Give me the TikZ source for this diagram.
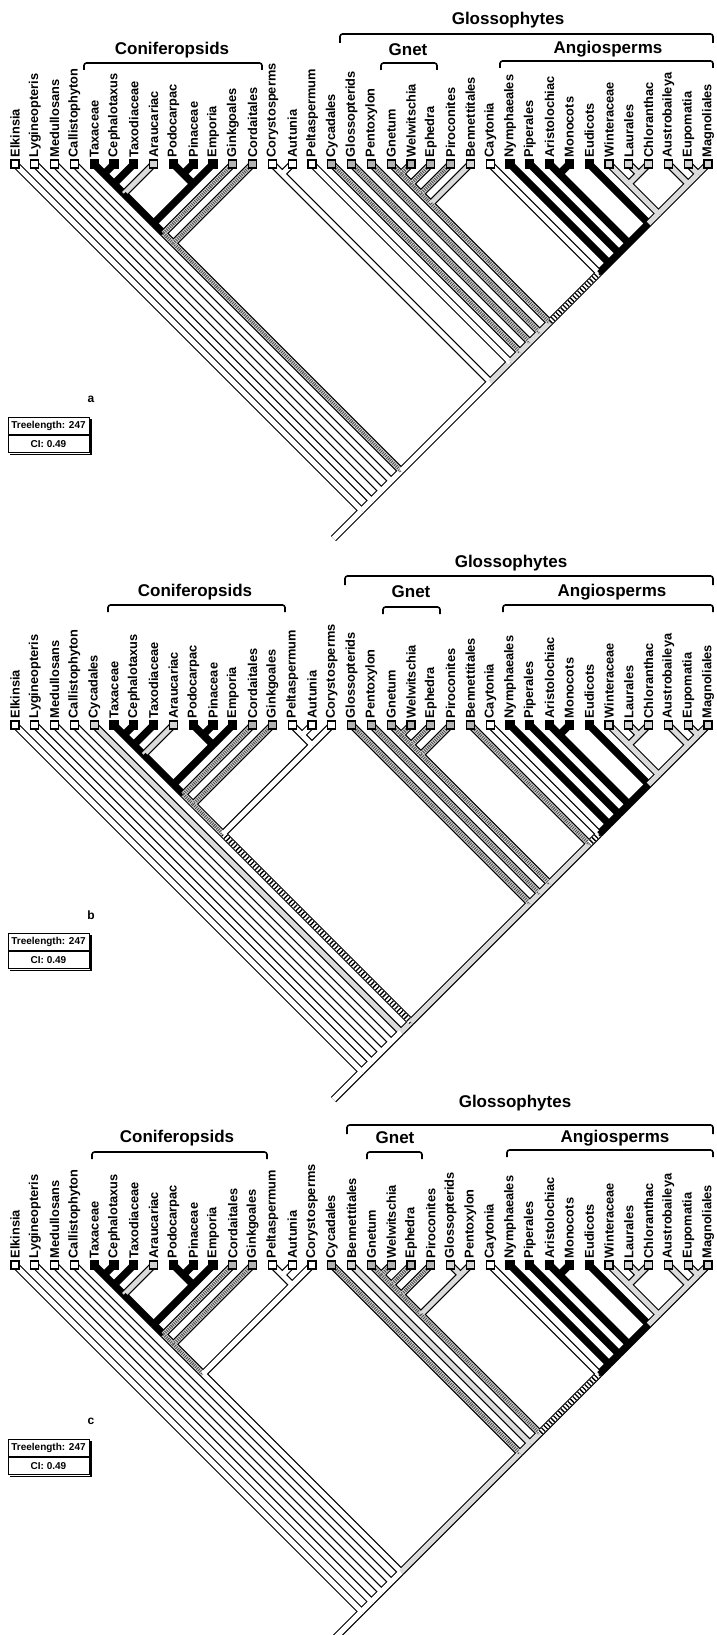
\documentclass[tikz,border=0pt]{standalone}
\usepackage{fontspec}
\setmainfont{Liberation Sans}
\usetikzlibrary{calc}

\tikzset{
  brout/.style={line width=7.4pt, black},
  brin/.style={line width=5pt},
  fw/.style={draw=white},
  fk/.style={draw=black},
  fg/.style={draw=gray!28},
  fz/.style={draw=gray!35, postaction={draw=black!70, line width=3.6pt, dash pattern=on 0.9pt off 1.2pt}},
  fh/.style={draw=white, postaction={draw=black, dash pattern=on 1.3pt off 2.1pt}},
  leaf/.style={draw, line width=1.1pt, minimum size=8pt, inner sep=0pt},
  lbfw/.style={fill=white}, lbfk/.style={fill=black}, lbfg/.style={fill=gray!35},
  lbfz/.style={fill=gray!60}, lbfh/.style={fill=gray!60},
  taxon/.style={rotate=90, anchor=west, inner sep=0.5pt,
                font=\fontsize{12.8}{13}\selectfont\bfseries},
  group/.style={font=\fontsize{17}{18}\selectfont\bfseries, inner sep=0pt},
  brk/.style={line width=1.6pt, rounded corners=2.5pt},
  legrow/.style={draw, line width=1pt, minimum width=81pt, minimum height=17pt,
                 inner sep=0pt, font=\fontsize{10}{10}\selectfont\bfseries},
}

% tree: prefix, y of leaf row, branch list (child L/R, parent L/R, fill)
\newcommand\drawtree[3]{%
  \foreach \cL/\cR/\pL/\pR/\f in #3{
    \coordinate (#1\cL x\cR) at ({15+9.9*(\cL+\cR)},{#2+9.9*(\cR-\cL)});
    \coordinate (#1\pL x\pR) at ({15+9.9*(\pL+\pR)},{#2+9.9*(\pR-\pL)});
  }
  \coordinate (#1root) at ($(#10x35)+(-28,28)$);
  \draw[brout] (#10x35) -- (#1root);
  \foreach \cL/\cR/\pL/\pR/\f in #3
    \draw[brout] (#1\cL x\cR) -- (#1\pL x\pR);
  \draw[brin, fw] (#10x35) -- (#1root);
  \foreach \cL/\cR/\pL/\pR/\f in #3
    \draw[brin, \f] (#1\cL x\cR) -- (#1\pL x\pR);
  \foreach \cL/\cR/\pL/\pR/\f in #3{
    \ifnum\cL=\cR\relax
      \edef\bs{lb\f}
      \node[leaf, \bs] (#1box\cL) at (#1\cL x\cR) {};
    \fi}
}

% legend box: prefix, letter, y of letter
\newcommand\legend[3]{%
  \node[font=\fontsize{12}{12}\selectfont\bfseries] (#1let) at (91,#3) {#2};
  \node[legrow] (#1tl) at (48.5,#3+27) {Treelength: 247};
  \node[legrow, anchor=north] (#1ci) at (#1tl.south) {CI: 0.49};
  \draw[line width=1.4pt] ($(#1tl.north east)+(1.4,2)$) -- ($(#1ci.south east)+(1.4,1.4)$)
    -- ($(#1ci.south west)+(2,1.4)$);
}

\def\angio{24/24/24/35/fw, 25/35/24/35/fk,
  25/25/25/35/fk, 26/35/25/35/fk, 26/26/26/35/fk, 27/35/26/35/fk,
  27/27/27/28/fk, 28/28/27/28/fk, 27/28/27/35/fk, 29/35/27/35/fk,
  29/29/29/35/fk, 30/35/29/35/fg,
  30/30/30/32/fg, 31/31/31/32/fg, 32/32/31/32/fg, 31/32/30/32/fg, 30/32/30/35/fg,
  33/33/33/35/fg, 34/34/34/35/fg, 35/35/34/35/fg, 34/35/33/35/fg, 33/35/30/35/fg}

\edef\treeA{0/0/0/35/fw, 1/1/1/35/fw, 2/2/2/35/fw, 3/3/3/35/fw,
  1/35/0/35/fw, 2/35/1/35/fw, 3/35/2/35/fw, 4/35/3/35/fw,
  4/12/4/35/fz, 13/35/4/35/fw,
  4/4/4/5/fk, 5/5/4/5/fk, 4/5/4/6/fk, 6/6/4/6/fk, 4/6/4/7/fk, 7/7/4/7/fg, 4/7/4/10/fk,
  8/8/8/9/fk, 9/9/8/9/fk, 8/9/8/10/fk, 10/10/8/10/fk, 8/10/4/10/fk,
  4/10/4/11/fk, 11/11/4/11/fz, 4/11/4/12/fz, 12/12/4/12/fz,
  13/13/13/14/fw, 14/14/13/14/fw, 13/14/13/35/fw, 15/35/13/35/fg,
  15/15/15/35/fw, 16/35/15/35/fg, 16/16/16/35/fz, 17/35/16/35/fg,
  17/17/17/35/fz, 18/35/17/35/fg, 18/18/18/35/fz, 19/35/18/35/fg,
  19/19/19/20/fz, 20/20/19/20/fz, 19/20/19/21/fz, 21/21/19/21/fz,
  19/21/19/22/fz, 22/22/19/22/fz, 19/22/19/23/fz, 23/23/19/23/fg, 19/23/19/35/fz,
  24/35/19/35/fh, \angio}

\edef\treeB{0/0/0/35/fw, 1/1/1/35/fw, 2/2/2/35/fw, 3/3/3/35/fw, 4/4/4/35/fg,
  1/35/0/35/fw, 2/35/1/35/fw, 3/35/2/35/fw, 4/35/3/35/fw, 5/35/4/35/fg,
  5/16/5/35/fh, 17/35/5/35/fg,
  5/5/5/6/fk, 6/6/5/6/fk, 5/6/5/7/fk, 7/7/5/7/fk, 5/7/5/8/fk, 8/8/5/8/fg, 5/8/5/11/fk,
  9/9/9/10/fk, 10/10/9/10/fk, 9/10/9/11/fk, 11/11/9/11/fk, 9/11/5/11/fk,
  5/11/5/12/fk, 12/12/5/12/fz, 5/12/5/13/fz, 13/13/5/13/fz, 5/13/5/16/fz,
  14/14/14/15/fw, 15/15/14/15/fw, 14/15/14/16/fw, 16/16/14/16/fw, 14/16/5/16/fw,
  17/17/17/35/fz, 18/35/17/35/fg, 18/18/18/35/fz, 19/35/18/35/fg,
  19/19/19/20/fz, 20/20/19/20/fz, 19/20/19/21/fz, 21/21/19/21/fz,
  19/21/19/22/fz, 22/22/19/22/fz, 19/22/19/35/fz,
  23/35/19/35/fg, 23/23/23/35/fz, 24/35/23/35/fh, \angio}

\edef\treeC{0/0/0/35/fw, 1/1/1/35/fw, 2/2/2/35/fw, 3/3/3/35/fw,
  1/35/0/35/fw, 2/35/1/35/fw, 3/35/2/35/fw, 4/35/3/35/fw,
  4/15/4/35/fw, 16/35/4/35/fg,
  4/4/4/5/fk, 5/5/4/5/fk, 4/5/4/6/fk, 6/6/4/6/fk, 4/6/4/7/fk, 7/7/4/7/fg, 4/7/4/10/fk,
  8/8/8/9/fk, 9/9/8/9/fk, 8/9/8/10/fk, 10/10/8/10/fk, 8/10/4/10/fk,
  4/10/4/11/fk, 11/11/4/11/fz, 4/11/4/12/fz, 12/12/4/12/fz, 4/12/4/15/fz,
  13/13/13/14/fw, 14/14/13/14/fw, 13/14/13/15/fw, 15/15/13/15/fw, 13/15/4/15/fw,
  16/16/16/35/fz, 17/35/16/35/fg, 17/17/17/35/fg, 18/35/17/35/fg,
  18/18/18/19/fz, 19/19/18/19/fz, 18/19/18/20/fz, 20/20/18/20/fz,
  18/20/18/21/fz, 21/21/18/21/fz, 18/21/18/23/fz,
  22/22/22/23/fg, 23/23/22/23/fg, 22/23/18/23/fg, 18/23/18/35/fz,
  24/35/18/35/fh, \angio}

\begin{document}
\begin{tikzpicture}[x=1pt, y=-1pt]
  \useasboundingbox (0,0) rectangle (716,1635);

  % ======== (a) ========
  \drawtree{a}{164}{\treeA}
  \foreach \nm [count=\i from 0] in {Elkinsia, Lygineopteris, Medullosans,
      Callistophyton, Taxaceae, Cephalotaxus, Taxodiaceae, Araucariac, Podocarpac,
      Pinaceae, Emporia, Ginkgoales, Cordaitales, Corystosperms, Autunia,
      Peltaspermum, Cycadales, Glossopterids, Pentoxylon, Gnetum, Welwitschia,
      Ephedra, Piroconites, Bennettitales, Caytonia, Nymphaeales, Piperales,
      Aristolochiac, Monocots, Eudicots, Winteraceae, Laurales, Chloranthac,
      Austrobaileya, Eupomatia, Magnoliales}
    \node[taxon] (alab\i) at ($(a\i x\i)+(0,-6)$) {\nm};

  \node[group] (aglo) at (508,20) {Glossophytes};
  \draw[brk] (340,43) -- (340,34) -- (713,34) -- (713,43);
  \node[group] (acon) at (172,50) {Coniferopsids};
  \draw[brk] (84,70) -- (84,63) -- (262,63) -- (262,70);
  \node[group] (agne) at (408,50) {Gnet};
  \draw[brk] (381,70) -- (381,63) -- (437,63) -- (437,70);
  \node[group] (aang) at (608,49) {Angiosperms};
  \draw[brk] (500,68) -- (500,61) -- (713,61) -- (713,68);
  \legend{a}{a}{399}

  % ======== (b) ========
  \drawtree{b}{725}{\treeB}
  \foreach \nm [count=\i from 0] in {Elkinsia, Lygineopteris, Medullosans,
      Callistophyton, Cycadales, Taxaceae, Cephalotaxus, Taxodiaceae, Araucariac,
      Podocarpac, Pinaceae, Emporia, Cordaitales, Ginkgoales, Peltaspermum,
      Autunia, Corystosperms, Glossopterids, Pentoxylon, Gnetum, Welwitschia,
      Ephedra, Piroconites, Bennettitales, Caytonia, Nymphaeales, Piperales,
      Aristolochiac, Monocots, Eudicots, Winteraceae, Laurales, Chloranthac,
      Austrobaileya, Eupomatia, Magnoliales}
    \node[taxon] (blab\i) at ($(b\i x\i)+(0,-6)$) {\nm};

  \node[group] (bglo) at (511,563) {Glossophytes};
  \draw[brk] (345,585) -- (345,576) -- (713,576) -- (713,585);
  \node[group] (bcon) at (195,592) {Coniferopsids};
  \draw[brk] (108,612) -- (108,605) -- (285,605) -- (285,612);
  \node[group] (bgne) at (411,592) {Gnet};
  \draw[brk] (383,614) -- (383,607) -- (440,607) -- (440,614);
  \node[group] (bang) at (612,592) {Angiosperms};
  \draw[brk] (503,612) -- (503,605) -- (713,605) -- (713,612);
  \legend{b}{b}{915}

  % ======== (c) ========
  \drawtree{c}{1265}{\treeC}
  \foreach \nm [count=\i from 0] in {Elkinsia, Lygineopteris, Medullosans,
      Callistophyton, Taxaceae, Cephalotaxus, Taxodiaceae, Araucariac, Podocarpac,
      Pinaceae, Emporia, Cordaitales, Ginkgoales, Peltaspermum, Autunia,
      Corystosperms, Cycadales, Bennettitales, Gnetum, Welwitschia, Ephedra,
      Piroconites, Glossopterids, Pentoxylon, Caytonia, Nymphaeales, Piperales,
      Aristolochiac, Monocots, Eudicots, Winteraceae, Laurales, Chloranthac,
      Austrobaileya, Eupomatia, Magnoliales}
    \node[taxon] (clab\i) at ($(c\i x\i)+(0,-6)$) {\nm};

  \node[group] (cglo) at (515,1103) {Glossophytes};
  \draw[brk] (347,1134) -- (347,1125) -- (713,1125) -- (713,1134);
  \node[group] (ccon) at (177,1138) {Coniferopsids};
  \draw[brk] (92,1159) -- (92,1152) -- (267,1152) -- (267,1159);
  \node[group] (cgne) at (395,1138) {Gnet};
  \draw[brk] (367,1159) -- (367,1152) -- (422,1152) -- (422,1159);
  \node[group] (cang) at (615,1138) {Angiosperms};
  \draw[brk] (507,1157) -- (507,1150) -- (713,1150) -- (713,1157);
  \legend{c}{c}{1421}

\end{tikzpicture}
\end{document}
